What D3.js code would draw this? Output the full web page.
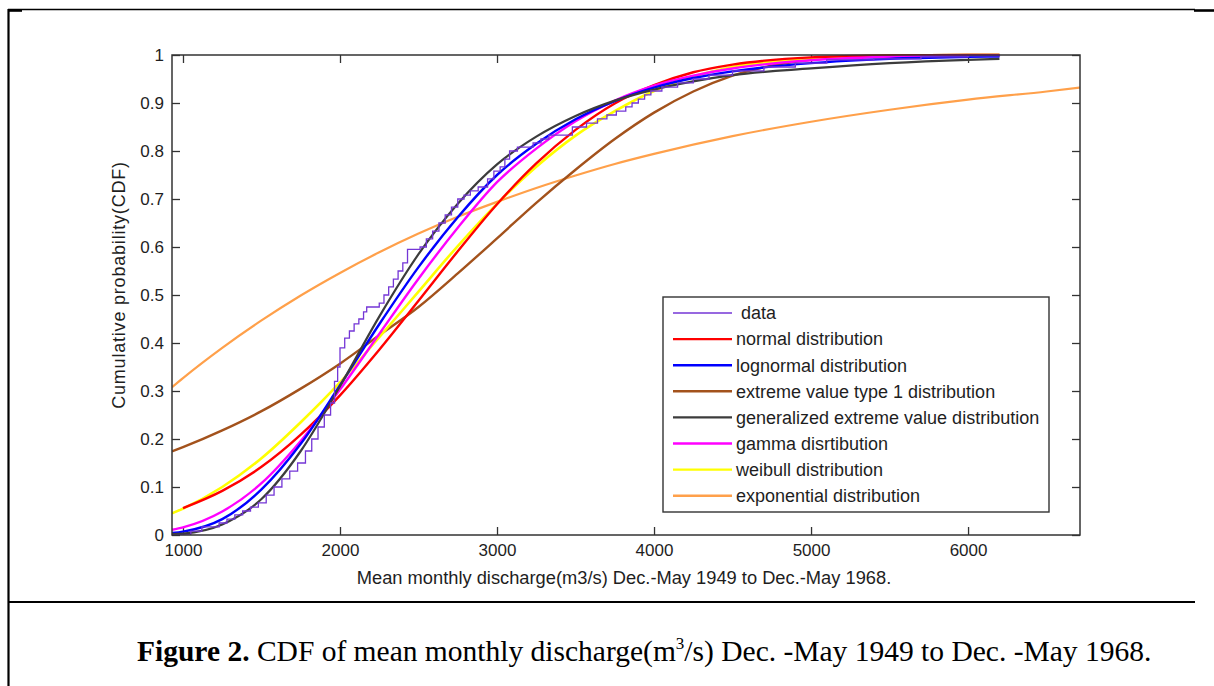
<!DOCTYPE html>
<html>
<head>
<meta charset="utf-8">
<script src="https://cdn.jsdelivr.net/npm/d3@7"></script>
<style>
  html, body { margin: 0; padding: 0; background: #fff; }
  svg { display: block; }
  text { font-family: Arial, "Liberation Sans", sans-serif; }
</style>
</head>
<body>
<svg id="chart" width="1214" height="686"></svg>
<script>
// ---------------- data ----------------
const xTicks = [1000, 2000, 3000, 4000, 5000, 6000];
const xTickLabels = ["1000", "2000", "3000", "4000", "5000", "6000"];
const yTicks = [0, 0.1, 0.2, 0.3, 0.4, 0.5, 0.6, 0.7, 0.8, 0.9, 1];
const yTickLabels = ["0", "0.1", "0.2", "0.3", "0.4", "0.5", "0.6", "0.7", "0.8", "0.9", "1"];

const seriesNames = [" data", "normal distribution", "lognormal distribution",
  "extreme value type 1 distribution", "generalized extreme value distribution",
  "gamma disrtibution", "weibull distribution", "exponential distribution"];

// empirical CDF steps [discharge, probability]
const dataSteps = [[930,0],[1050,0.008],[1120,0.017],[1230,0.025],[1280,0.033],[1330,0.042],
  [1380,0.05],[1430,0.058],[1480,0.067],[1530,0.083],[1580,0.1],[1630,0.117],[1680,0.133],
  [1730,0.15],[1780,0.175],[1820,0.2],[1860,0.225],[1900,0.25],[1940,0.275],[1965,0.32],
  [1985,0.35],[2000,0.39],[2030,0.41],[2060,0.425],[2090,0.44],[2120,0.45],[2150,0.465],
  [2170,0.475],[2250,0.483],[2280,0.5],[2310,0.517],[2340,0.533],[2370,0.55],[2400,0.567],
  [2430,0.595],[2510,0.6],[2550,0.617],[2590,0.633],[2630,0.65],[2670,0.667],[2710,0.683],
  [2750,0.7],[2790,0.708],[2830,0.717],[2880,0.725],[2940,0.742],[2980,0.758],[3020,0.767],
  [3050,0.783],[3080,0.8],[3130,0.808],[3230,0.817],[3280,0.825],[3330,0.833],[3480,0.85],
  [3570,0.858],[3640,0.867],[3700,0.875],[3760,0.883],[3820,0.892],[3860,0.9],[3900,0.908],
  [3940,0.917],[3980,0.925],[4050,0.933],[4150,0.942],[4250,0.95],[4350,0.958],[4500,0.967],
  [4700,0.975],[4900,0.983],[5100,0.99],[5400,0.992],[5700,0.996],[6000,0.998],[6200,1.0]];

const gridX = [930, 1000, 1250, 1500, 1750, 2000, 2250, 2500, 2750, 3000, 3250, 3500,
  3750, 4000, 4250, 4500, 5000, 5500, 6000, 6200];
const normalP =    [null, 0.056, 0.092, 0.142, 0.209, 0.291, 0.386, 0.488, 0.591, 0.689, 0.774, 0.844,
  0.899, 0.937, 0.964, 0.980, 0.995, 0.999, 1.0, 1.0];
const lognormalP = [0.004, 0.007, 0.033, 0.095, 0.19, 0.312, 0.439, 0.558, 0.662, 0.750, 0.815, 0.866,
  0.904, 0.932, 0.952, 0.966, 0.983, 0.992, 0.996, 0.997];
const ev1P =       [0.174, 0.183, 0.218, 0.258, 0.305, 0.357, 0.416, 0.475, 0.545, 0.618, 0.692, 0.761,
  0.825, 0.880, 0.924, 0.957, 0.990, 0.999, 1.0, 1.0];
const gevP =       [0.002, 0.003, 0.022, 0.075, 0.175, 0.31, 0.455, 0.585, 0.69, 0.772, 0.83, 0.873,
  0.905, 0.928, 0.945, 0.958, 0.972, 0.983, 0.99, 0.992];
const gammaP =     [0.011, 0.016, 0.049, 0.108, 0.196, 0.303, 0.419, 0.534, 0.640, 0.735, 0.805, 0.862,
  0.905, 0.936, 0.957, 0.972, 0.989, 0.996, 0.9985, 0.999];
const weibullP =   [0.045, 0.055, 0.10, 0.16, 0.235, 0.318, 0.412, 0.507, 0.602, 0.690, 0.767, 0.832,
  0.883, 0.925, 0.955, 0.975, 0.993, 0.999, 1.0, 1.0];
const expX = [930, 1000, 1250, 1500, 1750, 2000, 2250, 2500, 2750, 3000, 3250, 3500, 3750,
  4000, 4500, 5000, 5500, 6000, 6500, 6713];
const expP = [0.308, 0.327, 0.390, 0.447, 0.499, 0.546, 0.589, 0.628, 0.663, 0.694, 0.723, 0.749,
  0.773, 0.794, 0.831, 0.861, 0.886, 0.907, 0.924, 0.932];

const colors = ["#7436d6", "#ff0000", "#0000ff", "#a3521c", "#3c3c3c", "#ff00ff", "#ffff00", "#ffa04a"];

// ---------------- drawing ----------------
const svg = d3.select("#chart");
svg.append("rect").attr("width", 1214).attr("height", 686).attr("fill", "#fff");

// page frame
const frame = svg.append("g").attr("stroke", "#000").attr("fill", "none");
frame.append("line").attr("x1", 8).attr("x2", 1195).attr("y1", 9.5).attr("y2", 9.5).attr("stroke-width", 1.4);
frame.append("line").attr("x1", 1194).attr("x2", 1214).attr("y1", 10.5).attr("y2", 10.5).attr("stroke-width", 2.6);
frame.append("line").attr("x1", 8.5).attr("x2", 8.5).attr("y1", 9).attr("y2", 686).attr("stroke-width", 2.2);
frame.append("line").attr("x1", 8).attr("x2", 22).attr("y1", 10.5).attr("y2", 10.5).attr("stroke-width", 2.6);
frame.append("line").attr("x1", 8).attr("x2", 1195).attr("y1", 602).attr("y2", 602).attr("stroke-width", 2.2);

const L = 172, R = 1080, T = 55, B = 535;
const x = d3.scaleLinear().domain([930, 6713]).range([L, R]);
const y = d3.scaleLinear().domain([0, 1]).range([B, T]);

const axisColor = "#333";
function styleAxis(g) {
  g.select(".domain").remove();
  g.selectAll(".tick line").attr("stroke", axisColor).attr("stroke-width", 1.3);
  g.selectAll(".tick text").attr("fill", "#1e1e1e").style("font-size", "17px")
    .style("font-family", "Arial, 'Liberation Sans', sans-serif");
}

svg.append("g").attr("transform", `translate(0,${B})`)
  .call(d3.axisBottom(x).tickValues(xTicks).tickFormat((d, i) => xTickLabels[i]).tickSize(-8).tickPadding(9))
  .call(styleAxis);
svg.append("g").attr("transform", `translate(0,${T})`)
  .call(d3.axisTop(x).tickValues(xTicks).tickFormat("").tickSize(-8))
  .call(styleAxis);
svg.append("g").attr("transform", `translate(${L},0)`)
  .call(d3.axisLeft(y).tickValues(yTicks).tickFormat((d, i) => yTickLabels[i]).tickSize(-8).tickPadding(8))
  .call(styleAxis);
svg.append("g").attr("transform", `translate(${R},0)`)
  .call(d3.axisRight(y).tickValues(yTicks).tickFormat("").tickSize(-8))
  .call(styleAxis);

// curves
svg.append("clipPath").attr("id", "clip")
  .append("rect").attr("x", L).attr("y", T - 2).attr("width", R - L).attr("height", B - T + 2);
const plot = svg.append("g").attr("clip-path", "url(#clip)");

const smooth = d3.line().defined(d => d[1] !== null).x(d => x(d[0])).y(d => y(d[1])).curve(d3.curveMonotoneX);
const zipG = arr => gridX.map((v, i) => [v, arr[i]]);

const fitted = [
  { data: expX.map((v, i) => [v, expP[i]]), c: 7, w: 2.2 },
  { data: zipG(ev1P), c: 3, w: 2.4 },
  { data: zipG(weibullP), c: 6, w: 2.6 },
  { data: zipG(normalP), c: 1, w: 2.4 },
  { data: zipG(gammaP), c: 5, w: 2.4 },
  { data: zipG(lognormalP), c: 2, w: 2.4 },
  { data: zipG(gevP), c: 4, w: 2.2 }
];
fitted.forEach(s => {
  plot.append("path").datum(s.data).attr("fill", "none")
    .attr("stroke", colors[s.c]).attr("stroke-width", s.w).attr("d", smooth);
});
plot.append("path").datum(dataSteps).attr("fill", "none").attr("stroke", colors[0]).attr("stroke-width", 1.3)
  .attr("d", d3.line().x(d => x(d[0])).y(d => y(d[1])).curve(d3.curveStepAfter));

// box
svg.append("rect").attr("x", L).attr("y", T).attr("width", R - L).attr("height", B - T)
  .attr("fill", "none").attr("stroke", axisColor).attr("stroke-width", 1.5);

// axis labels
svg.append("text").attr("x", 624).attr("y", 584).attr("text-anchor", "middle")
  .style("font-size", "18.3px").attr("fill", "#1e1e1e")
  .text("Mean monthly discharge(m3/s) Dec.-May 1949 to Dec.-May 1968.");
svg.append("text").attr("transform", "translate(125,285) rotate(-90)").attr("text-anchor", "middle")
  .style("font-size", "18px").style("letter-spacing", "0.8px").attr("fill", "#1e1e1e")
  .text("Cumulative probability(CDF)");

// legend
const lg = svg.append("g");
lg.append("rect").attr("x", 663).attr("y", 297).attr("width", 386).attr("height", 215)
  .attr("fill", "#fff").attr("stroke", axisColor).attr("stroke-width", 1.4);
seriesNames.forEach((name, i) => {
  const yy = 313 + i * 26.1;
  lg.append("line").attr("x1", 673).attr("x2", 732).attr("y1", yy).attr("y2", yy)
    .attr("stroke", colors[i]).attr("stroke-width", i === 0 ? 1.3 : 2.4);
  lg.append("text").attr("x", 736).attr("y", yy).attr("dy", "0.35em")
    .style("font-size", "18px").attr("fill", "#1e1e1e").attr("xml:space", "preserve").text(name);
});

// caption
const cap = svg.append("text").attr("x", 137).attr("y", 661)
  .style("font-family", "'Times New Roman', 'Liberation Serif', serif").style("font-size", "29.5px").attr("fill", "#000");
cap.append("tspan").style("font-weight", "bold").text("Figure 2.");
cap.append("tspan").text(" CDF of mean monthly discharge(m");
cap.append("tspan").attr("dy", -12).style("font-size", "17px").text("3");
cap.append("tspan").attr("dy", 12).text("/s) Dec. -May 1949 to Dec. -May 1968.");
</script>
</body>
</html>
